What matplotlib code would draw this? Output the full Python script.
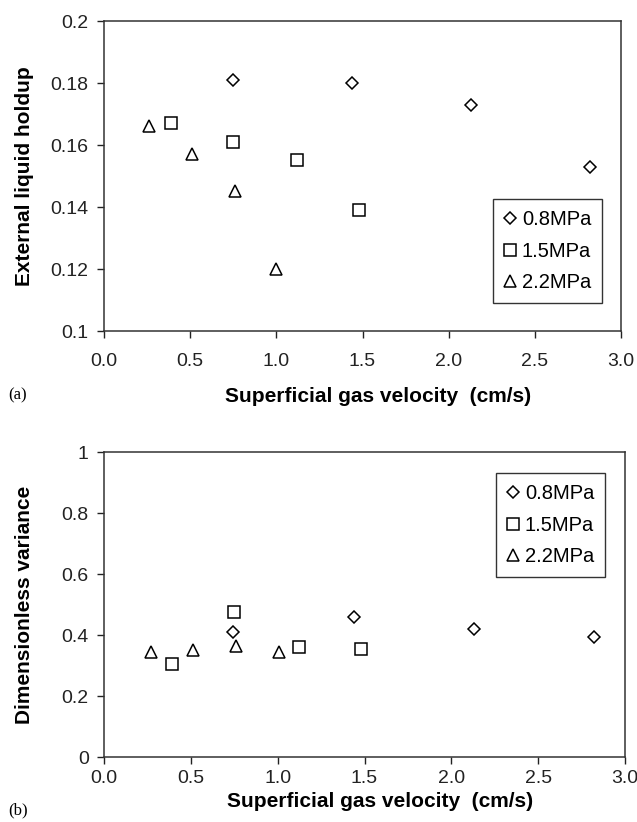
import matplotlib
matplotlib.use("Agg")
import matplotlib.pyplot as plt

plt.rcParams['font.family'] = ['Liberation Sans', 'DejaVu Sans']

# Données
labels = ['0.8MPa', '1.5MPa', '2.2MPa']
markers = ['D', 's', '^']
sizes = [6, 8, 9]

x_08 = [0.75, 1.44, 2.13, 2.82]
x_15 = [0.39, 0.75, 1.12, 1.48]
x_22 = [0.26, 0.51, 0.76, 1.00]

holdup_08 = [0.181, 0.180, 0.173, 0.153]
holdup_15 = [0.167, 0.161, 0.155, 0.139]
holdup_22 = [0.166, 0.157, 0.145, 0.120]

var_x_08 = [0.74, 1.44, 2.13, 2.82]
var_x_22 = [0.27, 0.51, 0.76, 1.01]
var_08 = [0.41, 0.46, 0.42, 0.395]
var_15 = [0.305, 0.475, 0.36, 0.355]
var_22 = [0.345, 0.35, 0.365, 0.345]

xticks = [0.0, 0.5, 1.0, 1.5, 2.0, 2.5, 3.0]

fig = plt.figure(figsize=(6.37, 8.22), dpi=100)
ax1 = fig.add_axes([104 / 637, 1 - 331 / 822, 517 / 637, 310 / 822])
ax2 = fig.add_axes([104 / 637, 1 - 757 / 822, 521 / 637, 305 / 822])


def style(ax, ylabel, xlab_y, xpad):
    ax.set_xlim(0, 3)
    ax.set_xticks(xticks)
    ax.set_xticklabels([f'{v:.1f}' for v in xticks])
    ax.tick_params(direction='out', length=5, width=1, labelsize=14, colors='#222222')
    ax.tick_params(axis='x', pad=xpad)
    ax.tick_params(axis='y', pad=6)
    for s in ax.spines.values():
        s.set_linewidth(1.1)
        s.set_color('#333333')
    ax.set_xlabel('Superficial gas velocity  (cm/s)', fontsize=15, fontweight='bold', va='center')
    ax.xaxis.set_label_coords(0.53, xlab_y)
    ax.set_ylabel(ylabel, fontsize=15, fontweight='bold', va='center')
    ax.yaxis.set_label_coords(-0.153, 0.5)


def add_legend(ax, anchor):
    leg = ax.legend(loc='upper left', bbox_to_anchor=anchor, frameon=True, fancybox=False,
                    edgecolor='black', fontsize=14.5, handlelength=0.6, handletextpad=0.3,
                    borderpad=0.55, labelspacing=0.62, borderaxespad=0)
    leg.get_frame().set_linewidth(1)


series1 = [(x_08, holdup_08), (x_15, holdup_15), (x_22, holdup_22)]
for (x, y), m, ms, lab in zip(series1, markers, sizes, labels):
    ax1.plot(x, y, linestyle='none', marker=m, markersize=ms,
             markerfacecolor='white', markeredgecolor='black', markeredgewidth=1.1, label=lab)
ax1.set_ylim(0.1, 0.2)
ax1.set_yticks([0.1, 0.12, 0.14, 0.16, 0.18, 0.2])
ax1.set_yticklabels(['0.1', '0.12', '0.14', '0.16', '0.18', '0.2'])
style(ax1, 'External liquid holdup', -0.21, 11)
add_legend(ax1, (0.752, 0.425))

series2 = [(var_x_08, var_08), (x_15, var_15), (var_x_22, var_22)]
for (x, y), m, ms, lab in zip(series2, markers, sizes, labels):
    ax2.plot(x, y, linestyle='none', marker=m, markersize=ms,
             markerfacecolor='white', markeredgecolor='black', markeredgewidth=1.1, label=lab)
ax2.set_ylim(0, 1)
ax2.set_yticks([0, 0.2, 0.4, 0.6, 0.8, 1])
ax2.set_yticklabels(['0', '0.2', '0.4', '0.6', '0.8', '1'])
style(ax2, 'Dimensionless variance', -0.145, 4)
add_legend(ax2, (0.752, 0.931))

fig.text(8 / 637, 1 - 395 / 822, '(a)', family='Liberation Serif', fontsize=12, va='center')
fig.text(8 / 637, 1 - 810 / 822, '(b)', family='Liberation Serif', fontsize=12, va='center')

fig.savefig('out.png', dpi=100)
